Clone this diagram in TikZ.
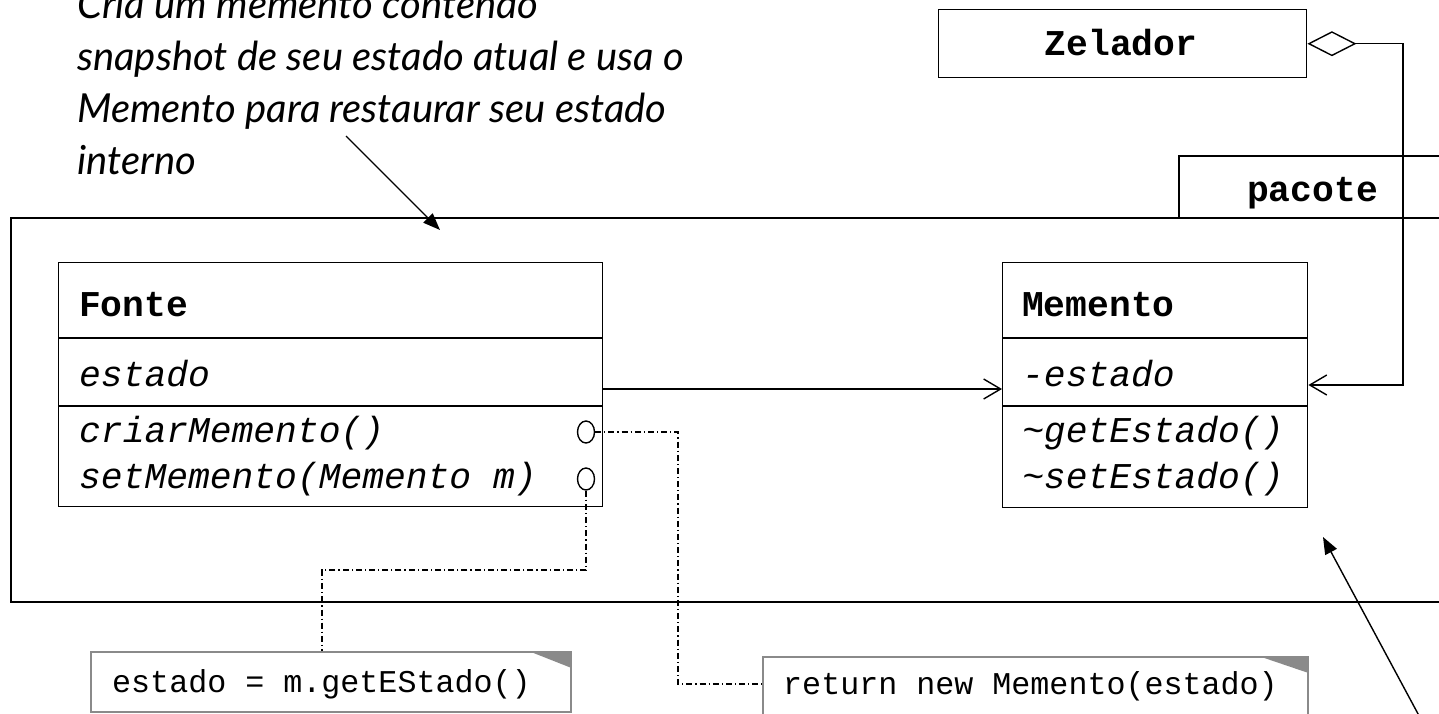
\documentclass[tikz,border=0pt]{standalone}
\usepackage{fontspec}
\setmainfont{Lato}
\newfontfamily\monof{Liberation Mono}
\usetikzlibrary{arrows.meta,shapes.geometric}
\definecolor{notegray}{HTML}{8A8A8A}
\tikzset{
  cls/.style={draw, line width=1.4pt, inner sep=0pt, anchor=north west},
  pkgframe/.style={draw, line width=2pt, inner sep=0pt, anchor=north west},
  clsname/.style={font=\monof\bfseries\fontsize{36.3}{40}\selectfont, anchor=base west, inner sep=0pt},
  clsitem/.style={font=\monof\itshape\fontsize{36.3}{40}\selectfont, anchor=base west, inner sep=0pt},
  notebox/.style={draw=notegray, line width=1.5pt, inner sep=0pt, anchor=north west, fill=white},
  notetext/.style={font=\monof\fontsize{31.7}{36}\selectfont, anchor=base west, inner sep=0pt},
  comment/.style={font=\itshape\fontsize{40}{52}\selectfont, anchor=base west, inner sep=0pt},
  dashdot/.style={line width=1.2pt, dash pattern=on 6pt off 3pt on 1.2pt off 3pt},
  assoc/.style={line width=1.4pt, -{Straight Barb[length=17pt,width=20pt,line width=1.4pt]}},
  pointer/.style={line width=1.4pt, -{Triangle[length=17pt,width=13pt]}},
  lolli/.style={ellipse, draw, line width=1.4pt, minimum width=17pt, minimum height=22pt, inner sep=0pt},
  divider/.style={line width=1.4pt},
}
\begin{document}
\begin{tikzpicture}[x=1pt,y=-1pt]
\path[use as bounding box, clip] (0,0) rectangle (1439,713);
\fill[white] (0,0) rectangle (1439,713);

% comment text
\node[comment] (t1) at (77,18) {Cria um memento contendo};
\node[comment] (t2) at (77,70) {snapshot de seu estado atual e usa o};
\node[comment] (t3) at (77,122) {Memento para restaurar seu estado};
\node[comment] (t4) at (77,174) {interno};

% Zelador
\node[cls, minimum width=368pt, minimum height=68pt] (zel) at (938,9) {};
\node[clsname, anchor=base] (zeltxt) at (1121,55) {Zelador};

% package
\node[pkgframe, minimum width=290pt, minimum height=62pt] (tab) at (1178,155) {};
\node[pkgframe, minimum width=1460pt, minimum height=384pt] (pkg) at (10,217) {};
\node[clsname] (pactxt) at (1247,201) {pacote};

% Fonte class
\node[cls, minimum width=544pt, minimum height=244pt] (fonte) at (58,262) {};
\draw[divider] (fonte.west |- 0,338) -- (fonte.east |- 0,338);
\draw[divider] (fonte.west |- 0,406) -- (fonte.east |- 0,406);
\node[clsname] (fname) at (79,316) {Fonte};
\node[clsitem] (fa1) at (79,386) {estado};
\node[clsitem] (fo1) at (79,442) {criarMemento()};
\node[clsitem] (fo2) at (79,488) {setMemento(Memento m)};
\node[lolli] (l1) at (586,432) {};
\node[lolli] (l2) at (586,479) {};

% Memento class
\node[cls, minimum width=305pt, minimum height=245pt] (mem) at (1002,262) {};
\draw[divider] (mem.west |- 0,338) -- (mem.east |- 0,338);
\draw[divider] (mem.west |- 0,406) -- (mem.east |- 0,406);
\node[clsname] (mname) at (1022,316) {Memento};
\node[clsitem] (ma1) at (1022,386) {-estado};
\node[clsitem] (mo1) at (1022,442) {\char`\~getEstado()};
\node[clsitem] (mo2) at (1022,488) {\char`\~setEstado()};

% associations
\coordinate (a1) at (0,389);
\draw[assoc] (fonte.east |- a1) -- (mem.west |- a1);
\coordinate (c1) at (1403,385);
\draw[line width=1.4pt, {Diamond[open,length=49pt,width=25pt,line width=1.4pt]}-{Straight Barb[length=17pt,width=20pt,line width=1.4pt]}]
  (zel.east) -| (c1) -- (mem.east |- c1);

% notes
\node[notebox, minimum width=480pt, minimum height=60pt] (n1) at (90,651) {};
\fill[notegray] (n1.north east) ++(-43,0) -- (n1.north east) -- ++(0,17) -- cycle;
\node[notetext] (n1txt) at (112,692) {estado = m.getEStado()};
\node[notebox, minimum width=545pt, minimum height=80pt] (n2) at (762,656) {};
\fill[notegray] (n2.north east) ++(-50,0) -- (n2.north east) -- ++(0,17) -- cycle;
\node[notetext] (n2txt) at (783,694) {return new Memento(estado)};

% dash-dot connectors
\coordinate (k1) at (678,684);
\draw[dashdot] (l1.east) -| (k1) -- (k1 -| n2.west);
\coordinate (k2) at (322,570);
\draw[dashdot] (l2.south) |- (k2) -- (k2 |- n1.north);

% comment pointers
\coordinate (p1s) at (346,136);
\coordinate (p1e) at (440,230);
\draw[pointer] (p1s) -- (p1e);
\coordinate (p2s) at (1424,725);
\coordinate (p2e) at (1323,537);
\draw[pointer] (p2s) -- (p2e);
\end{tikzpicture}
\end{document}
